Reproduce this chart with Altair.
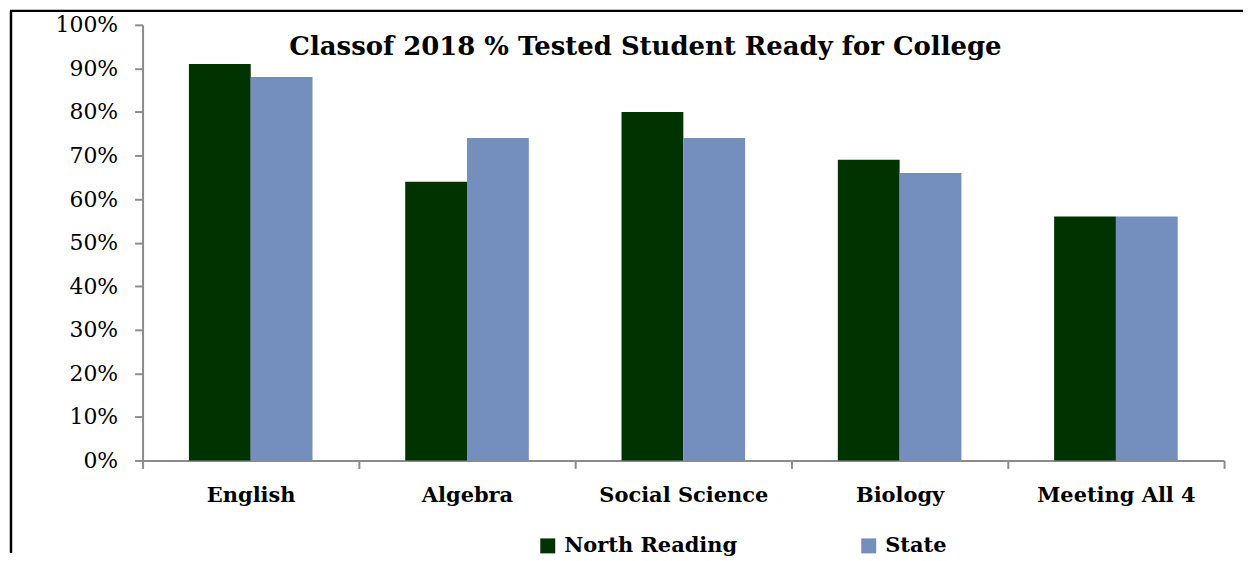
import altair as alt
import pandas as pd

categories = ["English", "Algebra", "Social Science", "Biology", "Meeting All 4"]
north_reading = [91, 64, 80, 69, 56]
state = [88, 74, 74, 66, 56]
series_names = ["North Reading", "State"]
series_colors = ["#003300", "#748FBE"]
y_ticks = [0, 10, 20, 30, 40, 50, 60, 70, 80, 90, 100]
title_text = "Classof 2018 % Tested Student Ready for College"

rows = []
for c, n, s in zip(categories, north_reading, state):
    rows.append({"category": c, "series": series_names[0], "value": n})
    rows.append({"category": c, "series": series_names[1], "value": s})
df = pd.DataFrame(rows)

FONT = "DejaVu Serif"
AXIS_GRAY = "#8c8c8c"

bars = alt.Chart(df).mark_bar().encode(
    x=alt.X(
        "category:N", sort=categories, title=None,
        scale=alt.Scale(paddingInner=0, paddingOuter=0),
        axis=alt.Axis(
            tickBand="extent", labelAngle=0, labelFont=FONT, labelFontWeight="bold",
            labelFontSize=21, labelColor="black", domainColor=AXIS_GRAY, tickColor=AXIS_GRAY,
            tickSize=8, tickWidth=2, domainWidth=2, labelPadding=16,
        ),
    ),
    xOffset=alt.XOffset(
        "series:N", sort=series_names,
        scale=alt.Scale(paddingInner=0, paddingOuter=0.75),
    ),
    y=alt.Y(
        "value:Q", title=None,
        scale=alt.Scale(domain=[0, 100]),
        axis=alt.Axis(
            values=y_ticks, labelExpr="datum.value + '%'", grid=False,
            labelFont=FONT, labelFontSize=22, labelColor="black",
            domainColor=AXIS_GRAY, tickColor=AXIS_GRAY, tickSize=8, tickWidth=2,
            domainWidth=2, labelPadding=17,
        ),
    ),
    color=alt.Color(
        "series:N", sort=series_names,
        scale=alt.Scale(domain=series_names, range=series_colors),
        legend=alt.Legend(
            title=None, orient="none", direction="horizontal", legendX=396, legendY=512,
            symbolType="square", symbolSize=225, symbolStrokeWidth=0, symbolOpacity=1,
            labelFont=FONT, labelFontWeight="bold", labelFontSize=21, labelColor="black",
            labelOffset=6, columnPadding=121, labelLimit=400,
        ),
    ),
)

frame_src = pd.DataFrame({"a": [0]})
left_line = alt.Chart(frame_src).mark_rule(color="black", strokeWidth=2.5).encode(
    x=alt.value(-132), y=alt.value(-14), y2=alt.value(530)
)
top_line = alt.Chart(frame_src).mark_rule(color="black", strokeWidth=2.5).encode(
    x=alt.value(-133), x2=alt.value(1104), y=alt.value(-14)
)

chart = alt.layer(left_line, top_line, bars).properties(
    width=1085, height=437, padding=0,
    title=alt.TitleParams(
        text=title_text, font=FONT, fontSize=26, fontWeight="bold", color="black",
        anchor="middle", frame="group", dx=-38, offset=-51,
    ),
).configure_view(stroke=None)

chart.save("out.html", embed_options={"renderer": "svg", "actions": False})
